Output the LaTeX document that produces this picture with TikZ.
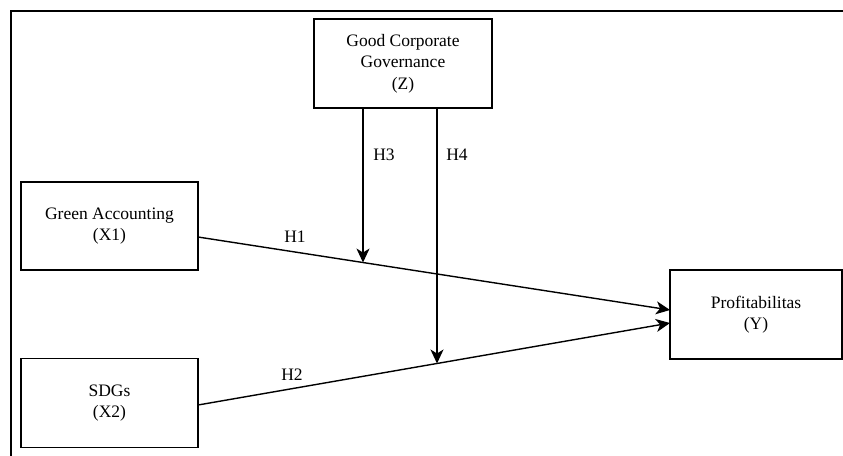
\documentclass[tikz,border=0pt]{standalone}
\usepackage{fontspec}
\setmainfont{Liberation Serif}
\usetikzlibrary{arrows.meta}
\begin{document}
\begin{tikzpicture}[x=1pt,y=-1pt,
  txt/.style={font=\fontsize{17.5}{21.5}\selectfont},
  box/.style={txt, draw, line width=1.4pt, align=center, inner sep=0pt, outer sep=0pt},
  conn/.style={line width=1.4pt, -{Stealth[length=14pt,width=13pt,inset=4pt]}},
  lbl/.style={txt, inner sep=0pt}]
\useasboundingbox (0,0) rectangle (843,455);
\draw[line width=2pt] (11,460) -- (11,11) -- (850,11);

\node[box, minimum width=178pt, minimum height=89pt] (z) at (403,63.5) {Good Corporate\\Governance\\(Z)};
\node[box, minimum width=177pt, minimum height=88pt] (x1) at (109.5,226) {Green Accounting\\(X1)};
\node[box, minimum width=177pt, minimum height=89pt] (x2) at (109.5,403) {SDGs\\(X2)};
\node[box, minimum width=172pt, minimum height=89pt] (y) at (756,314.5) {Profitabilitas\\(Y)};

\draw[conn] ([yshift=-11pt]x1.east) -- ([yshift=4.5pt]y.west) coordinate[pos=0.35] (m1);
\draw[conn] ([yshift=-2pt]x2.east) -- ([yshift=-8.5pt]y.west) coordinate[pos=0.506] (m2);

\coordinate (h3) at ([xshift=-40pt]z.south);
\coordinate (h4) at ([xshift=34pt]z.south);
\draw[conn] (h3) -- (h3 |- m1);
\draw[conn] (h4) -- (h4 |- m2);

\node[lbl] (l1) at (295,237) {H1};
\node[lbl] (l2) at (292,375) {H2};
\node[lbl] (l3) at (384,155) {H3};
\node[lbl] (l4) at (457,155) {H4};
\end{tikzpicture}
\end{document}
